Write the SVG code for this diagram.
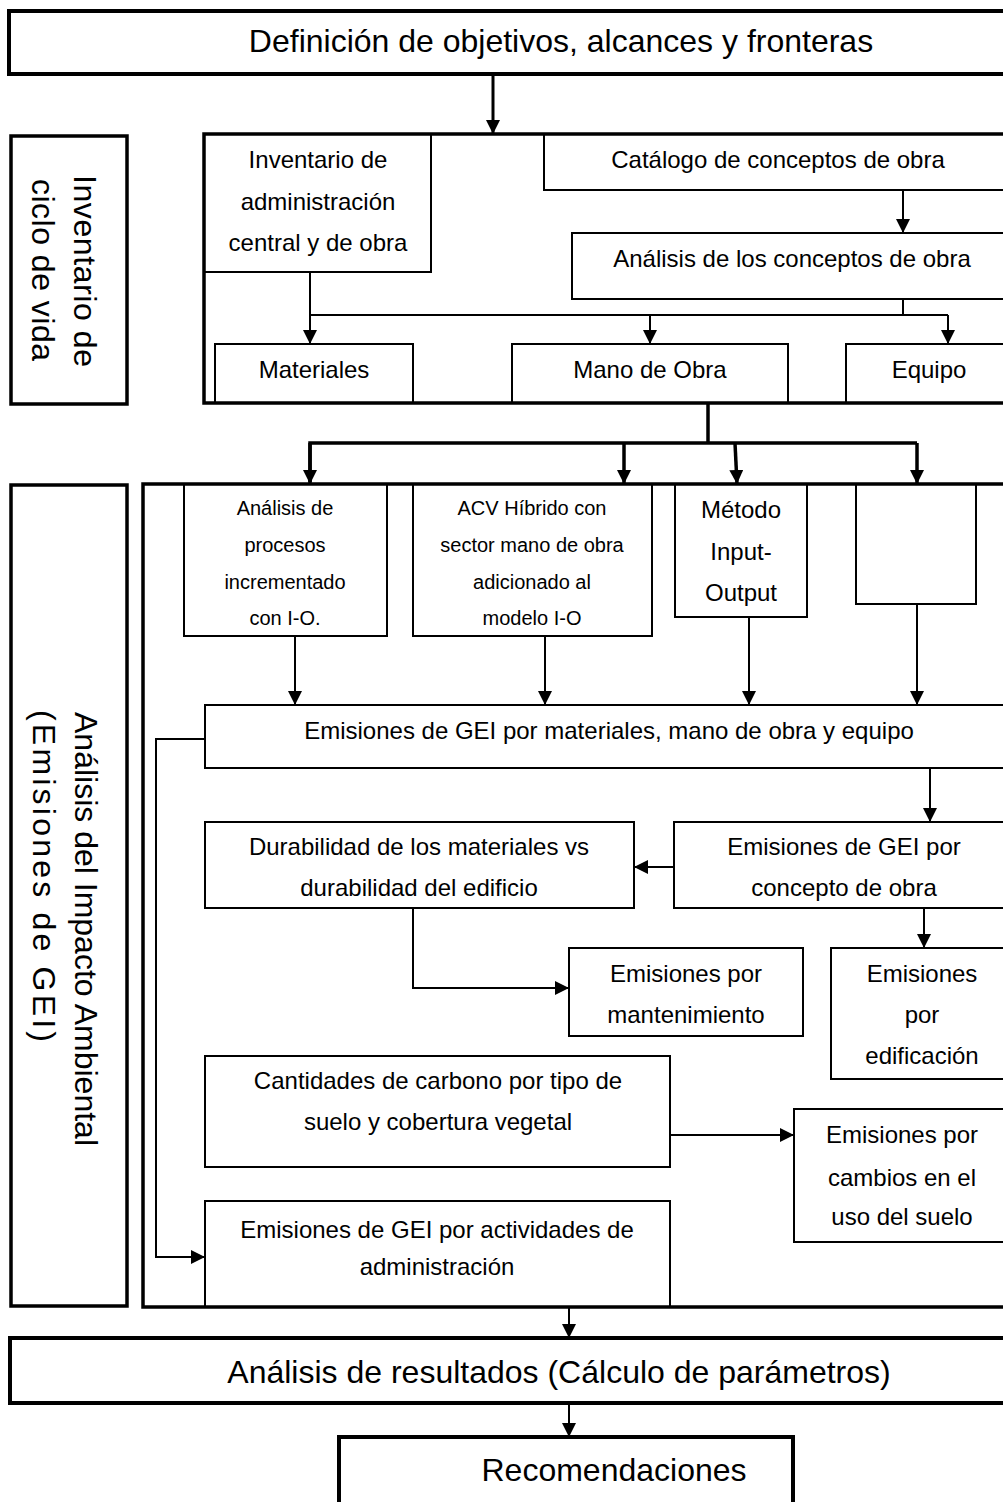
<svg xmlns="http://www.w3.org/2000/svg" width="1003" height="1502" viewBox="0 0 1003 1502">
<style>
.box{fill:#fff;stroke:#000;stroke-width:2}
.main{fill:#fff;stroke:#000;stroke-width:4}
.cont{fill:none;stroke:#000;stroke-width:3.5}
.side{fill:#fff;stroke:#000;stroke-width:3.5}
.t{font-family:"Liberation Sans",Arial,sans-serif;fill:#000;text-anchor:middle}
.f32{font-size:32px}
.f24{font-size:24px}
.f20{font-size:20px}
.c{fill:none;stroke:#000;stroke-width:2}
.ck{fill:none;stroke:#000;stroke-width:3.5}
.a{marker-end:url(#ah)}
</style>
<defs>
<marker id="ah" markerUnits="userSpaceOnUse" markerWidth="15" markerHeight="15" refX="14" refY="7" orient="auto">
<path d="M0,0 L14,7 L0,14 Z" fill="#000"/>
</marker>
</defs>
<rect width="1003" height="1502" fill="#fff"/>

<g id="n-definicion">
<rect class="main" x="9" y="11" width="1010" height="63"/>
<text class="t f32" x="561" y="52">Definición de objetivos, alcances y fronteras</text>
</g>

<g id="n-inventario-cv">
<rect class="side" x="11" y="136" width="116" height="268"/>
<text class="t f32" transform="translate(74,271) rotate(90)" textLength="192" lengthAdjust="spacing">Inventario de</text>
<text class="t f32" transform="translate(32,270) rotate(90)" textLength="182" lengthAdjust="spacing">ciclo de vida</text>
</g>

<g id="n-inventario-adm">
<rect class="box" x="204" y="134" width="227" height="138"/>
<text class="t f24" x="318" y="168">Inventario de</text>
<text class="t f24" x="318" y="210">administración</text>
<text class="t f24" x="318" y="251">central y de obra</text>
</g>

<g id="n-catalogo">
<rect class="box" x="544" y="134" width="470" height="56"/>
<text class="t f24" x="778" y="168">Catálogo de conceptos de obra</text>
</g>

<g id="n-analisis-conceptos">
<rect class="box" x="572" y="233" width="442" height="66"/>
<text class="t f24" x="792" y="267">Análisis de los conceptos de obra</text>
</g>

<g id="n-materiales">
<rect class="box" x="215" y="344" width="198" height="59"/>
<text class="t f24" x="314" y="378">Materiales</text>
</g>

<g id="n-mano-obra">
<rect class="box" x="512" y="344" width="276" height="59"/>
<text class="t f24" x="650" y="378">Mano de Obra</text>
</g>

<g id="n-equipo">
<rect class="box" x="846" y="344" width="168" height="59"/>
<text class="t f24" x="929" y="378">Equipo</text>
</g>

<g id="c-inventario">
<rect class="cont" x="204" y="134" width="812" height="269"/>
</g>

<g id="n-analisis-impacto">
<rect class="side" x="11" y="485" width="116" height="821"/>
<text class="t f32" style="text-anchor:start" transform="translate(75,712) rotate(90)">Análisis del Impacto Ambiental</text>
<text class="t f32" style="text-anchor:start" transform="translate(33,710) rotate(90)" textLength="332" lengthAdjust="spacing">(Emisiones de GEI)</text>
</g>

<g id="n-procesos">
<rect class="box" x="184" y="484" width="203" height="152"/>
<text class="t f20" x="285" y="515">Análisis de</text>
<text class="t f20" x="285" y="552">procesos</text>
<text class="t f20" x="285" y="589">incrementado</text>
<text class="t f20" x="285" y="625">con I-O.</text>
</g>

<g id="n-acv">
<rect class="box" x="413" y="484" width="239" height="152"/>
<text class="t f20" x="532" y="515">ACV Híbrido con</text>
<text class="t f20" x="532" y="552">sector mano de obra</text>
<text class="t f20" x="532" y="589">adicionado al</text>
<text class="t f20" x="532" y="625">modelo I-O</text>
</g>

<g id="n-metodo">
<rect class="box" x="675" y="484" width="132" height="133"/>
<text class="t f24" x="741" y="518">Método</text>
<text class="t f24" x="741" y="560">Input-</text>
<text class="t f24" x="741" y="601">Output</text>
</g>

<g id="n-vacio">
<rect class="box" x="856" y="484" width="120" height="120"/>
</g>

<g id="n-emisiones-mat">
<rect class="box" x="205" y="705" width="810" height="63"/>
<text class="t f24" x="609" y="739">Emisiones de GEI por materiales, mano de obra y equipo</text>
</g>

<g id="n-durabilidad">
<rect class="box" x="205" y="822" width="429" height="86"/>
<text class="t f24" x="419" y="855">Durabilidad de los materiales vs</text>
<text class="t f24" x="419" y="896">durabilidad del edificio</text>
</g>

<g id="n-concepto">
<rect class="box" x="674" y="822" width="340" height="86"/>
<text class="t f24" x="844" y="855">Emisiones de GEI por</text>
<text class="t f24" x="844" y="896">concepto de obra</text>
</g>

<g id="n-mantenimiento">
<rect class="box" x="569" y="948" width="234" height="88"/>
<text class="t f24" x="686" y="982">Emisiones por</text>
<text class="t f24" x="686" y="1023">mantenimiento</text>
</g>

<g id="n-edificacion">
<rect class="box" x="831" y="948" width="183" height="131"/>
<text class="t f24" x="922" y="982">Emisiones</text>
<text class="t f24" x="922" y="1023">por</text>
<text class="t f24" x="922" y="1064">edificación</text>
</g>

<g id="n-cantidades">
<rect class="box" x="205" y="1056" width="465" height="111"/>
<text class="t f24" x="438" y="1089">Cantidades de carbono por tipo de</text>
<text class="t f24" x="438" y="1130">suelo y cobertura vegetal</text>
</g>

<g id="n-cambios">
<rect class="box" x="794" y="1109" width="220" height="133"/>
<text class="t f24" x="902" y="1143">Emisiones por</text>
<text class="t f24" x="902" y="1186">cambios en el</text>
<text class="t f24" x="902" y="1225">uso del suelo</text>
</g>

<g id="n-actividades">
<rect class="box" x="205" y="1201" width="465" height="106"/>
<text class="t f24" x="437" y="1238">Emisiones de GEI por actividades de</text>
<text class="t f24" x="437" y="1275">administración</text>
</g>

<g id="c-impacto">
<rect class="cont" x="143" y="484" width="873" height="823"/>
</g>

<g id="n-resultados">
<rect class="main" x="10" y="1338" width="1010" height="65"/>
<text class="t f32" x="559" y="1383">Análisis de resultados (Cálculo de parámetros)</text>
</g>

<g id="n-recomendaciones">
<rect class="main" x="339" y="1437" width="454" height="80"/>
<text class="t f32" x="614" y="1481">Recomendaciones</text>
</g>

<g id="connectors">
<line class="c a" x1="493" y1="76" x2="493" y2="134" style="stroke-width:3"/>
<line class="c a" x1="903" y1="190" x2="903" y2="233"/>
<polyline class="c" points="310,272 310,315 948,315"/>
<line class="c" x1="903" y1="299" x2="903" y2="315"/>
<line class="c a" x1="310" y1="315" x2="310" y2="344"/>
<line class="c a" x1="650" y1="315" x2="650" y2="344"/>
<line class="c a" x1="948" y1="315" x2="948" y2="344"/>
<line class="ck" x1="708" y1="403" x2="708" y2="443"/>
<polyline class="ck" points="310,482 310,443 917,443"/>
<line class="ck a" x1="310" y1="443" x2="310" y2="484"/>
<line class="ck a" x1="624" y1="443" x2="624" y2="484"/>
<line class="ck a" x1="735" y1="443" x2="737" y2="484"/>
<line class="ck a" x1="917" y1="443" x2="917" y2="484"/>
<line class="c a" x1="295" y1="636" x2="295" y2="705"/>
<line class="c a" x1="545" y1="636" x2="545" y2="705"/>
<line class="c a" x1="749" y1="617" x2="749" y2="705"/>
<line class="c a" x1="917" y1="604" x2="917" y2="705"/>
<polyline class="c a" points="205,739 156,739 156,1257 205,1257"/>
<line class="c a" x1="930" y1="768" x2="930" y2="822"/>
<line class="c a" x1="674" y1="867" x2="634" y2="867"/>
<polyline class="c a" points="413,908 413,988 569,988"/>
<line class="c a" x1="924" y1="908" x2="924" y2="948"/>
<line class="c a" x1="670" y1="1135" x2="794" y2="1135"/>
<line class="c a" x1="569" y1="1307" x2="569" y2="1338"/>
<line class="c a" x1="569" y1="1403" x2="569" y2="1437"/>
</g>
</svg>
